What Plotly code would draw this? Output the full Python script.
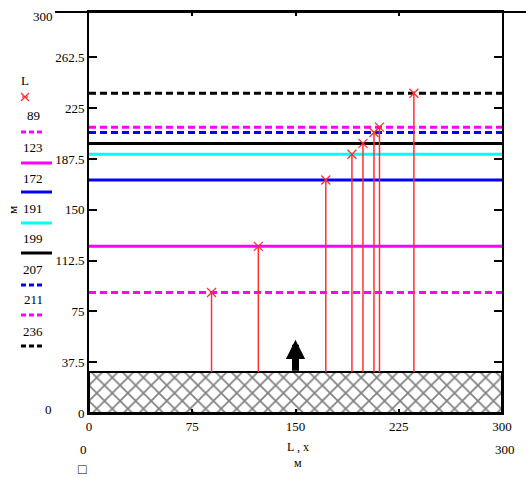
import plotly.graph_objects as go

# ---- data ----
L_values = [89, 123, 172, 191, 199, 207, 211, 236]
line_colors = ["#ff00ff", "#ff00ff", "#0000ff", "#00ffff", "#000000", "#0000ff", "#ff00ff", "#000000"]
line_dashes = ["7px,4px", "solid", "solid", "solid", "solid", "7px,4px", "7px,4px", "7px,4px"]
ground_level = 30
arrow_x = 150
arrow_top = 54
x_ticks = [0, 75, 150, 225, 300]
y_ticks = [0, 37.5, 75, 112.5, 150, 187.5, 225, 262.5]
x_range = [0, 300]
y_range = [0, 296]

FONT = "Liberation Serif"
W, H = 526, 478
ML, MR, MT, MB = 89, 24, 12, 65
PW = W - ML - MR
PH = H - MT - MB


def px(x):
    return (x - ML) / PW


def py(y):
    return (H - MB - y) / PH


fig = go.Figure()

# hatched ground
fig.add_trace(go.Bar(
    x=[sum(x_range) / 2], y=[ground_level], width=[x_range[1] - x_range[0]], base=0,
    marker=dict(color="white", line=dict(color="black", width=2),
                pattern=dict(shape="x", size=11, solidity=0.28, fgcolor="black", bgcolor="white")),
    showlegend=False, hoverinfo="skip"))

# horizontal level lines
for v, c, d in zip(L_values, line_colors, line_dashes):
    fig.add_trace(go.Scatter(x=x_range, y=[v, v], mode="lines",
                             line=dict(color=c, width=3, dash=d), showlegend=False))

# red stems
sx, sy = [], []
for v in L_values:
    sx += [v, v, None]
    sy += [ground_level, v, None]
fig.add_trace(go.Scatter(x=sx, y=sy, mode="lines", line=dict(color="#ff3030", width=1.5),
                         showlegend=False))
fig.add_trace(go.Scatter(x=L_values, y=L_values, mode="markers",
                         marker=dict(symbol="x-thin-open", size=9, color="#ff3030",
                                     line=dict(width=1.3, color="#ff3030")),
                         showlegend=False))

# arrow
fig.add_annotation(x=arrow_x, y=arrow_top, ax=arrow_x, ay=ground_level, xref="x", yref="y",
                   axref="x", ayref="y", showarrow=True, arrowhead=2, arrowwidth=7,
                   arrowsize=0.55, arrowcolor="black", text="")


def txt(x, y, s, size=13, color="black", angle=0, anchor="center"):
    fig.add_annotation(x=px(x), y=py(y), xref="paper", yref="paper", text=s, showarrow=False,
                       font=dict(family=FONT, size=size, color=color), textangle=angle,
                       xanchor=anchor, yanchor="middle")


txt(25, 80, "L")
# small red marker in legend
fig.add_shape(type="line", xref="paper", yref="paper", x0=px(21), x1=px(29), y0=py(93), y1=py(101),
              line=dict(color="#ff3030", width=1.3))
fig.add_shape(type="line", xref="paper", yref="paper", x0=px(21), x1=px(29), y0=py(101), y1=py(93),
              line=dict(color="#ff3030", width=1.3))
fig.add_shape(type="line", xref="paper", yref="paper", x0=px(22), x1=px(28), y0=py(97), y1=py(97),
              line=dict(color="#ff3030", width=1.3))

label_y = [116, 147, 178, 208, 238, 269, 299, 331]
line_y = [132, 163, 192, 223, 253, 285, 315, 346]
for v, c, d, ly, ry in zip(L_values, line_colors, line_dashes, label_y, line_y):
    txt(33, ly, str(v))
    x1 = 44 if d != "solid" else 52
    fig.add_shape(type="line", xref="paper", yref="paper", x0=px(21), x1=px(x1), y0=py(ry), y1=py(ry),
                  line=dict(color=c, width=3, dash="5px,3px" if d != "solid" else "solid"))

txt(12, 210, "м", angle=-90)
txt(48, 409, "0")
txt(83, 449, "0")
txt(298, 447, "L , x", size=12)
txt(298, 463, "м", size=12)
txt(505, 449, "300")
txt(43, 16, "300")
txt(82, 470, "□", size=14)

# extended top border
fig.add_shape(type="line", xref="paper", yref="paper", x0=px(55), x1=px(526), y0=1, y1=1,
              line=dict(color="black", width=2))

fig.update_layout(
    width=W, height=H, margin=dict(l=ML, r=MR, t=MT, b=MB),
    paper_bgcolor="white", plot_bgcolor="white", showlegend=False, bargap=0,
    font=dict(family=FONT, size=13, color="black"),
    xaxis=dict(range=x_range, tickvals=x_ticks, ticks="inside", ticklen=4, tickwidth=1.5,
               tickcolor="black", showline=True, linewidth=2, linecolor="black", mirror="ticks",
               showgrid=False, zeroline=False, automargin=False,
               tickfont=dict(family=FONT, size=13)),
    yaxis=dict(range=y_range, tickvals=y_ticks, ticktext=[("%g" % t) for t in y_ticks],
               ticks="inside", ticklen=8, tickwidth=1.5, tickcolor="black", showline=True,
               linewidth=2, linecolor="black", mirror="ticks", showgrid=False, zeroline=False,
               automargin=False, tickfont=dict(family=FONT, size=13)),
)

fig.write_html("out.html")
